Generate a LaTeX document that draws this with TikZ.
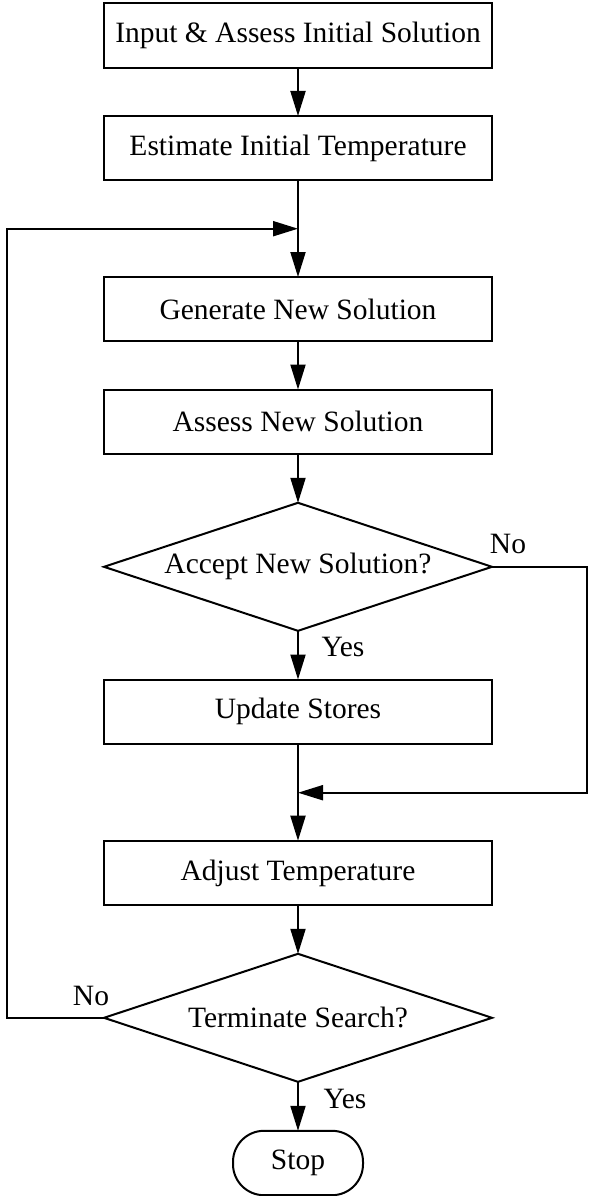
\documentclass[tikz,border=0pt]{standalone}
\usepackage{fontspec}
\setmainfont{Liberation Serif}
\usetikzlibrary{arrows.meta,shapes.geometric}
\begin{document}
\begin{tikzpicture}[x=1pt,y=-1pt,
  every node/.style={font=\fontsize{29.5}{33}\selectfont},
  procbox/.style={draw,line width=2pt,minimum width=388pt,minimum height=64.4pt,inner sep=0pt,outer sep=0pt},
  decbox/.style={draw,diamond,aspect=3.03,line width=2pt,minimum width=388pt,minimum height=128pt,inner sep=0pt,outer sep=0pt},
  stopbox/.style={draw,line width=2pt,rounded corners=31pt,minimum width=130pt,minimum height=64.4pt,inner sep=0pt,outer sep=0pt},
  conn/.style={line width=2pt},
  arr/.style={conn,-{Triangle[length=25pt,width=15pt]}},
  lbl/.style={anchor=base,inner sep=0pt}
]
\useasboundingbox (0,0) rectangle (589,1196);
\node[procbox] (b1) at (298,35.5) {Input \& Assess Initial Solution};
\node[procbox] (b2) at (298,148.2) {Estimate Initial Temperature};
\node[procbox] (b3) at (298,309.2) {Generate New Solution};
\node[procbox] (b4) at (298,421.7) {Assess New Solution};
\node[decbox] (d1) at (298,566.8) {Accept New Solution?};
\node[procbox] (b6) at (298,711.7) {Update Stores};
\node[procbox] (b7) at (298,872.9) {Adjust Temperature};
\node[decbox] (d2) at (298,1017.8) {Terminate Search?};
\node[stopbox] (st) at (298,1163) {Stop};

\coordinate (lt) at (7.3,228.7);
\coordinate (lj) at (298,228.7);
\coordinate (rt) at (587.3,792.7);
\coordinate (mj) at (298,792.7);

\draw[arr] (b1) -- (b2);
\draw[arr] (b2) -- (b3);
\draw[arr] (d2.west) -| (lt) -- (lj);
\draw[arr] (b3) -- (b4);
\draw[arr] (b4) -- (d1);
\draw[arr] (d1) -- (b6);
\draw[arr] (b6) -- (b7);
\draw[arr] (d1.east) -| (rt) -- (mj);
\draw[arr] (b7) -- (d2);
\draw[arr] (d2) -- (st);

\node[lbl] (n1) at (508,553) {No};
\node[lbl] (y1) at (343,656.7) {Yes};
\node[lbl] (n2) at (91,1005) {No};
\node[lbl] (y2) at (345,1108) {Yes};
\end{tikzpicture}
\end{document}
